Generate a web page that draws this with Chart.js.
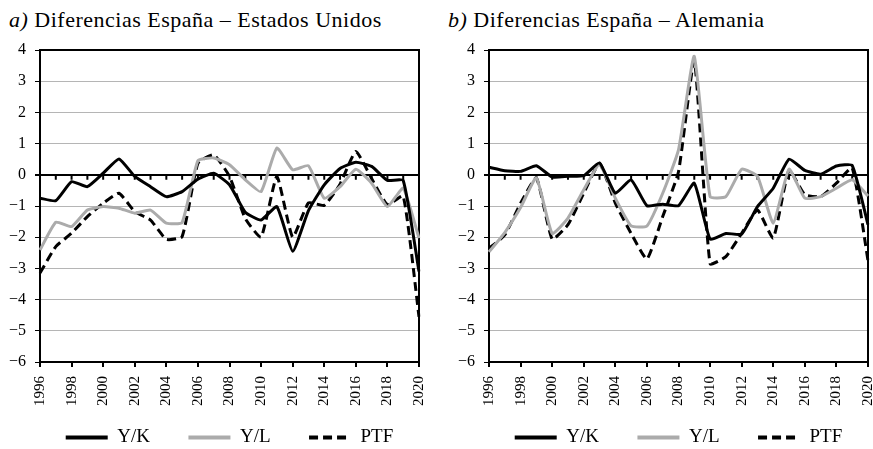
<!DOCTYPE html>
<html>
<head>
<meta charset="utf-8">
<script src="https://cdn.jsdelivr.net/npm/chart.js@4.4.1/dist/chart.umd.min.js"></script>
<style>
  body { margin: 0; background: #fff; font-family: "Liberation Serif", "DejaVu Serif", "Times New Roman", Tinos, "Noto Serif", FreeSerif, Times, serif; }
  .panel { position: absolute; top: 0; width: 436px; height: 457px; }
  .panel h2 { position: absolute; top: 9px; left: 9px; margin: 0; font-size: 22px; line-height: 22px; letter-spacing: 0.5px; font-weight: normal; white-space: nowrap; color: #000; }
  .panel canvas { position: absolute; left: 0; top: 0; }
</style>
</head>
<body>
<div class="panel" style="left:0">
  <h2><i>a)</i> Diferencias España – Estados Unidos</h2>
  <canvas id="chartUS" width="436" height="457"></canvas>
</div>
<div class="panel" style="left:449px">
  <h2 style="left:-1px"><i>b)</i> Diferencias España – Alemania</h2>
  <canvas id="chartDE" width="436" height="457"></canvas>
</div>
<script>
const years = ['1996', '1997', '1998', '1999', '2000', '2001', '2002', '2003', '2004', '2005', '2006', '2007', '2008',
  '2009', '2010', '2011', '2012', '2013', '2014', '2015', '2016', '2017', '2018', '2019', '2020'];
const seriesNames = ['Y/K', 'Y/L', 'PTF'];

// España – Estados Unidos
const usYK = [-0.75, -0.83, -0.22, -0.38, 0.05, 0.51, -0.05, -0.38, -0.70, -0.54, -0.14, 0.05, -0.32,
  -1.20, -1.45, -1.02, -2.45, -1.15, -0.32, 0.20, 0.40, 0.27, -0.18, -0.18, -3.10];
const usYL = [-2.41, -1.52, -1.66, -1.13, -1.02, -1.07, -1.23, -1.13, -1.55, -1.53, 0.45, 0.54, 0.32,
  -0.16, -0.54, 0.86, 0.16, 0.29, -0.75, -0.38, 0.18, -0.27, -1.02, -0.43, -2.03];
const usPTF = [-3.15, -2.30, -1.87, -1.34, -0.91, -0.59, -1.18, -1.45, -2.07, -1.98, 0.37, 0.64, -0.05,
  -1.40, -2.00, -0.05, -2.00, -0.90, -0.98, -0.30, 0.75, -0.12, -0.96, -0.68, -4.55];

// España – Alemania
const deYK = [0.24, 0.13, 0.11, 0.29, -0.07, -0.05, -0.03, 0.38, -0.59, -0.16, -0.99, -0.94, -0.99,
  -0.27, -2.06, -1.88, -1.90, -1.02, -0.43, 0.50, 0.14, 0.02, 0.28, 0.30, -1.60];
const deYL = [-2.47, -1.85, -1.05, -0.10, -1.88, -1.39, -0.48, 0.32, -0.75, -1.64, -1.64, -0.59, 0.80,
  3.80, -0.70, -0.70, 0.18, -0.05, -1.55, 0.18, -0.75, -0.70, -0.43, -0.16, -0.68];
const dePTF = [-2.36, -1.93, -0.91, -0.10, -2.06, -1.60, -0.59, 0.37, -0.91, -1.88, -2.70, -1.34, 0.10,
  3.65, -2.85, -2.62, -1.88, -1.13, -2.03, 0.15, -0.64, -0.70, -0.27, 0.22, -2.75];

Chart.defaults.font.family = getComputedStyle(document.body).fontFamily;
Chart.defaults.color = '#000';

// top/right edges of the plot box and the small year ticks hanging off the zero line
const frame = {
  id: 'frame',
  beforeDatasetsDraw(chart) {
    const { ctx, chartArea: a, scales: { x, y } } = chart;
    const y0 = y.getPixelForValue(0);
    ctx.save();
    ctx.strokeStyle = '#000';
    ctx.lineWidth = 2;
    ctx.beginPath();
    ctx.moveTo(a.left, a.top);
    ctx.lineTo(a.right, a.top);
    ctx.lineTo(a.right, a.bottom);
    for (let i = 1; i < years.length - 1; i++) {
      const px = x.getPixelForValue(i);
      ctx.moveTo(px, y0);
      ctx.lineTo(px, y0 + 5);
    }
    ctx.stroke();
    ctx.restore();
  }
};

function makeChart(id, yk, yl, ptf) {
  return new Chart(document.getElementById(id), {
    type: 'line',
    data: {
      labels: years,
      datasets: [
        { label: seriesNames[0], data: yk, borderColor: '#000', borderWidth: 3 },
        { label: seriesNames[1], data: yl, borderColor: '#ababab', borderWidth: 3 },
        { label: seriesNames[2], data: ptf, borderColor: '#000', borderWidth: 3, borderDash: [9, 5] }
      ]
    },
    options: {
      responsive: false,
      animation: false,
      layout: { padding: { top: 50, right: 17, left: 0, bottom: 0 } },
      elements: {
        point: { radius: 0 },
        line: { tension: 0.15, borderCapStyle: 'butt', borderJoinStyle: 'round' }
      },
      plugins: {
        tooltip: { enabled: false },
        legend: {
          position: 'bottom',
          fullSize: false,
          labels: {
            usePointStyle: true,
            pointStyle: 'line',
            pointStyleWidth: 42,
            padding: 10,
            font: { size: 19 },
            generateLabels(chart) {
              const items = Chart.defaults.plugins.legend.labels.generateLabels(chart);
              return items.map((it, i) => {
                it.lineWidth = 4;
                it.lineDash = chart.data.datasets[i].borderDash || [];
                if (i < items.length - 1) it.text += '      ';
                return it;
              });
            }
          }
        }
      },
      scales: {
        x: {
          afterFit(s) {
            s.height = 56;
            s.paddingLeft = 0;
            s.paddingRight = 0;
          },
          border: { color: '#000', width: 2 },
          grid: {
            drawOnChartArea: false,
            tickLength: 5,
            lineWidth: 2,
            tickColor: c => (c.index % 2 === 0 ? '#000' : 'rgba(0,0,0,0)')
          },
          ticks: {
            autoSkip: false,
            minRotation: 90,
            maxRotation: 90,
            padding: 9,
            font: { size: 15 },
            callback: (v, i) => (i % 2 === 0 ? years[i] : '')
          }
        },
        y: {
          min: -6,
          max: 4,
          afterFit(s) { s.width = 40; },
          border: { color: '#000', width: 2 },
          grid: {
            color: c => (c.tick && c.tick.value === 0 ? '#000' : '#b5b5b5'),
            lineWidth: c => (c.tick && c.tick.value === 0 ? 2 : 1),
            tickColor: '#000',
            tickLength: 5
          },
          ticks: {
            stepSize: 1,
            padding: 9,
            font: { size: 16 },
            callback: v => String(v).replace('-', '\u2212')
          }
        }
      }
    },
    plugins: [frame]
  });
}

makeChart('chartUS', usYK, usYL, usPTF);
makeChart('chartDE', deYK, deYL, dePTF);
</script>
</body>
</html>
